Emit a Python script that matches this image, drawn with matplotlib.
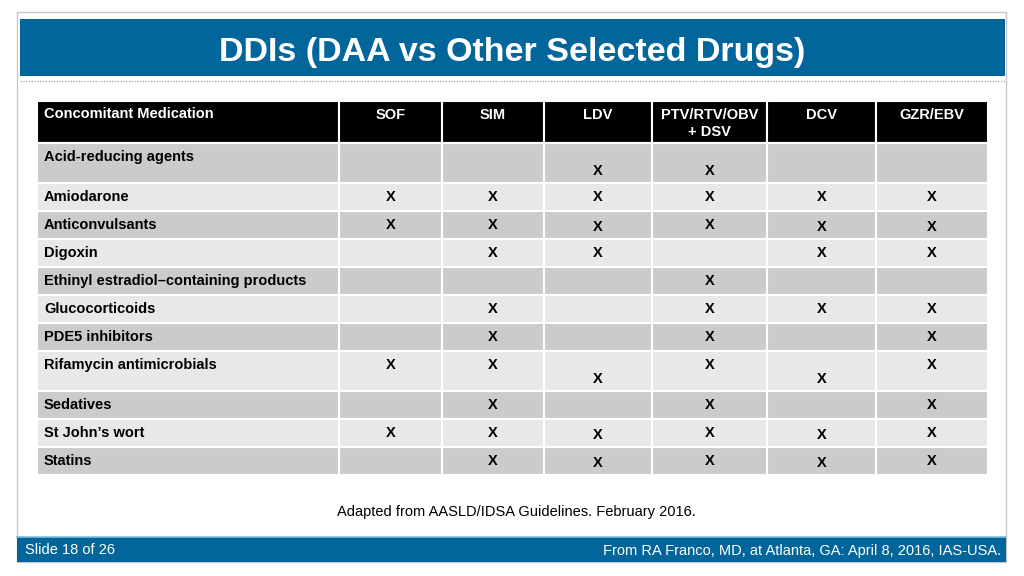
import matplotlib
matplotlib.use("Agg")
import matplotlib.pyplot as plt
from matplotlib.patches import Rectangle

# ─── Data ───────────────────────────────────────────────────────────────
TITLE = "DDIs (DAA vs Other Selected Drugs)"
FIRST_HEADER = "Concomitant Medication"
DRUG_HEADERS = ["SOF", "SIM", "LDV", "PTV/RTV/OBV\n+ DSV", "DCV", "GZR/EBV"]
MEDICATIONS = [
    "Acid-reducing agents",
    "Amiodarone",
    "Anticonvulsants",
    "Digoxin",
    "Ethinyl estradiol\u2013containing products",
    "Glucocorticoids",
    "PDE5 inhibitors",
    "Rifamycin antimicrobials",
    "Sedatives",
    "St John\u2019s wort",
    "Statins",
]
# 0 = no interaction, 1 = X (top of cell), 2 = X (set lower in cell)
INTERACTIONS = [
    [0, 0, 2, 2, 0, 0],
    [1, 1, 1, 1, 1, 1],
    [1, 1, 2, 1, 2, 2],
    [0, 1, 1, 0, 1, 1],
    [0, 0, 0, 1, 0, 0],
    [0, 1, 0, 1, 1, 1],
    [0, 1, 0, 1, 0, 1],
    [1, 1, 2, 1, 2, 1],
    [0, 1, 0, 1, 0, 1],
    [1, 1, 2, 1, 2, 1],
    [0, 1, 2, 1, 2, 1],
]
SOURCE = "Adapted from AASLD/IDSA Guidelines. February 2016."
FOOTER_LEFT = "Slide 18 of 26"
FOOTER_RIGHT = "From RA Franco, MD, at Atlanta, GA: April 8, 2016, IAS-USA."

# ─── Layout (pixels) ────────────────────────────────────────────────────
W, H = 1024, 576
BLUE = "#03669b"
COL_EDGES = [37, 339, 442, 544, 652, 767, 876, 988]
HEADER_TOP, HEADER_BOTTOM = 101, 143
TALL_ROWS = {0, 7}
ROW_H, TALL_H = 28, 40
DARK, LIGHT = "#cbcbcb", "#e8e8e8"

NARROW = ["Liberation Sans Narrow", "Liberation Sans", "DejaVu Sans"]
ARIAL = ["Liberation Sans", "DejaVu Sans"]

fig = plt.figure(figsize=(W / 100, H / 100), dpi=100)
ax = fig.add_axes([0, 0, 1, 1])
ax.set_xlim(0, W)
ax.set_ylim(H, 0)
ax.axis("off")

# slide frame
ax.add_patch(Rectangle((17, 12), 989, 550, facecolor="white",
                       edgecolor="#c8c8c8", linewidth=1))
# title bar
ax.add_patch(Rectangle((20, 19), 985, 57, facecolor=BLUE, edgecolor="none"))
ax.text(512, 52, TITLE, color="white", fontsize=24.5, fontweight="bold",
        family=NARROW, ha="center", va="center")
ax.plot([20, 1005], [81, 81], color="#b0b0b0", linewidth=1, linestyle=(0, (1, 1)))

# header row
for j in range(len(COL_EDGES) - 1):
    x0, x1 = COL_EDGES[j], COL_EDGES[j + 1]
    ax.add_patch(Rectangle((x0, HEADER_TOP), x1 - x0, HEADER_BOTTOM - HEADER_TOP,
                           facecolor="black", edgecolor="white", linewidth=1.5))
ax.text(COL_EDGES[0] + 7, 114, FIRST_HEADER, color="white", fontsize=10.5,
        fontweight="bold", family=ARIAL, ha="left", va="center")
for j, name in enumerate(DRUG_HEADERS):
    xc = (COL_EDGES[j + 1] + COL_EDGES[j + 2]) / 2
    ax.text(xc, 108, name, color="white", fontsize=10.5, fontweight="bold",
            family=ARIAL, ha="center", va="top", linespacing=1.25)

# body rows
y = HEADER_BOTTOM
for i, med in enumerate(MEDICATIONS):
    h = TALL_H if i in TALL_ROWS else ROW_H
    fc = DARK if i % 2 == 0 else LIGHT
    for j in range(len(COL_EDGES) - 1):
        x0, x1 = COL_EDGES[j], COL_EDGES[j + 1]
        ax.add_patch(Rectangle((x0, y), x1 - x0, h, facecolor=fc,
                               edgecolor="white", linewidth=1.5))
    ax.text(COL_EDGES[0] + 7, y + 14, med, color="black", fontsize=10.5,
            fontweight="bold", family=ARIAL, ha="left", va="center")
    for j, v in enumerate(INTERACTIONS[i]):
        if v == 0:
            continue
        xc = (COL_EDGES[j + 1] + COL_EDGES[j + 2]) / 2
        yc = y + 14 if v == 1 else y + h - 12
        ax.text(xc, yc, "X", color="black", fontsize=10.5, fontweight="bold",
                family=ARIAL, ha="center", va="center")
    y += h

# source note
ax.text(516, 512, SOURCE, color="black", fontsize=10.5, family=NARROW,
        ha="center", va="center")

# footer bar
ax.add_patch(Rectangle((17, 537), 989, 25, facecolor=BLUE, edgecolor="none"))
ax.plot([17, 1006], [537, 537], color="#7cc0dc", linewidth=1.2)
ax.text(25, 550, FOOTER_LEFT, color="white", fontsize=10.5, family=NARROW,
        ha="left", va="center")
ax.text(1001, 551, FOOTER_RIGHT, color="white", fontsize=10.5, family=NARROW,
        ha="right", va="center")

fig.savefig("out.png", dpi=100)
